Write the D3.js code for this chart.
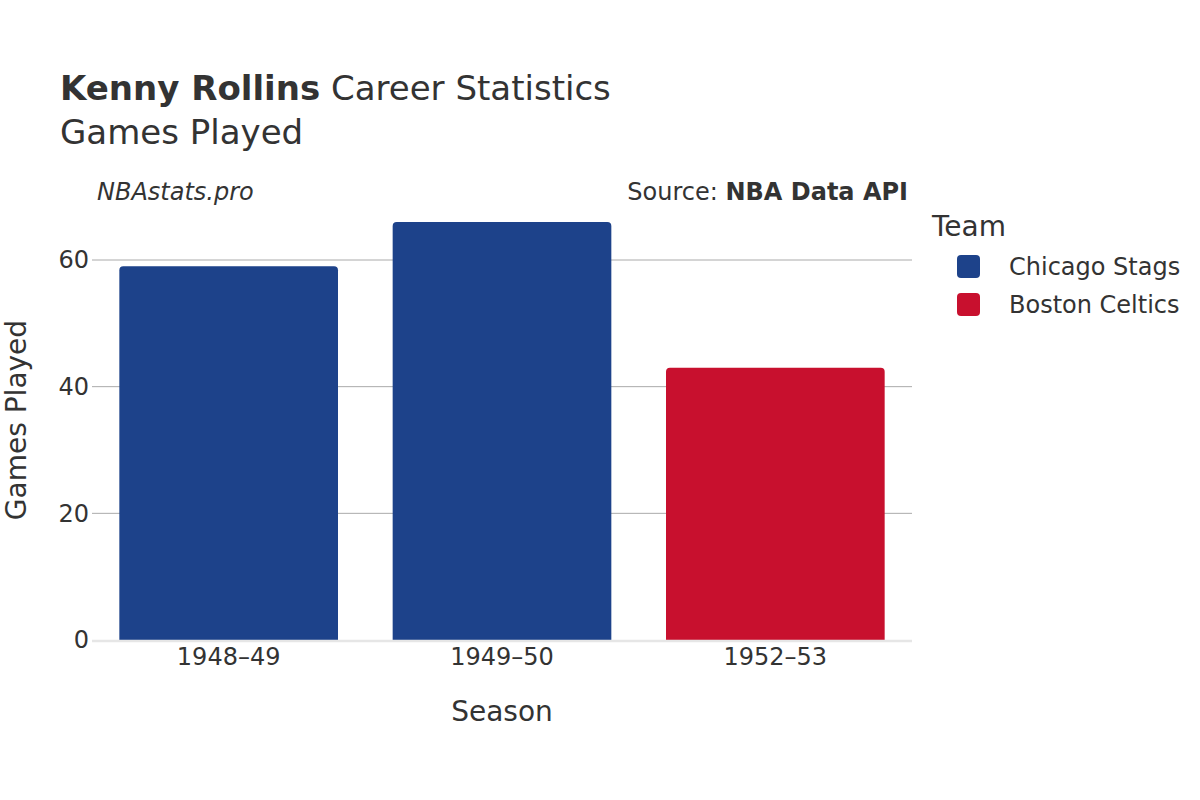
<!DOCTYPE html>
<html><head><meta charset="utf-8">
<script src="https://cdn.jsdelivr.net/npm/d3@7"></script>
<style>body{margin:0;background:#fff}text{font-family:"DejaVu Sans",sans-serif;fill:#333}</style>
</head><body>
<svg id="c" width="1200" height="800"></svg>
<script>
const seasons = ["1948–49", "1949–50", "1952–53"];
const teams = ["Chicago Stags", "Chicago Stags", "Boston Celtics"];
const gamesPlayed = [59, 66, 43];
const legendTeams = ["Chicago Stags", "Boston Celtics"];
const teamColors = ["#1d428a", "#c8102e"];
const yTicks = [0, 20, 40, 60];

const svg = d3.select("#c");
const m = {l: 92, r: 912, t: 200, b: 640};
const x = d3.scaleBand().domain(seasons).range([m.l, m.r]).paddingInner(0.2).paddingOuter(0.1);
const y = d3.scaleLinear().domain([0, 69.5]).range([m.b, m.b - 69.5 * (380 / 60)]);
const color = d3.scaleOrdinal().domain(legendTeams).range(teamColors);

// gridlines
svg.append("g").selectAll("line").data(yTicks.filter(d => d > 0)).join("line")
  .attr("x1", m.l).attr("x2", m.r).attr("y1", d => y(d)).attr("y2", d => y(d))
  .attr("stroke", "#aaaaaa").attr("stroke-width", 1);

// bars with rounded top
const r = 4;
svg.append("g").selectAll("path").data(seasons).join("path")
  .attr("d", (s, i) => {
    const x0 = x(s), w = x.bandwidth(), y0 = y(gamesPlayed[i]), yb = y(0);
    return `M${x0},${yb}V${y0 + r}Q${x0},${y0} ${x0 + r},${y0}H${x0 + w - r}Q${x0 + w},${y0} ${x0 + w},${y0 + r}V${yb}Z`;
  })
  .attr("fill", (s, i) => color(teams[i]));

// zero line
svg.append("line").attr("x1", m.l).attr("x2", m.r).attr("y1", y(0) + 1).attr("y2", y(0) + 1)
  .attr("stroke", "#e6e6e6").attr("stroke-width", 2.5);

// y axis ticks
const ya = svg.append("g").attr("transform", `translate(${m.l},0)`)
  .call(d3.axisLeft(y).tickValues(yTicks).tickSize(0).tickPadding(3));
ya.select(".domain").remove();
ya.selectAll("text").attr("font-size", 24).attr("fill", "#333").style("font-family", "DejaVu Sans");

// x axis ticks
const xa = svg.append("g").attr("transform", `translate(0,${m.b})`)
  .call(d3.axisBottom(x).tickSize(0).tickPadding(8));
xa.select(".domain").remove();
xa.selectAll("text").attr("font-size", 24).attr("fill", "#333").style("font-family", "DejaVu Sans");

// titles
const t = svg.append("text").attr("x", 60).attr("y", 100).attr("font-size", 34);
t.append("tspan").attr("font-weight", "bold").text("Kenny Rollins");
t.append("tspan").text(" Career Statistics");
svg.append("text").attr("x", 60).attr("y", 144).attr("font-size", 34).text("Games Played");

svg.append("text").attr("x", 97).attr("y", 200).attr("font-size", 24).attr("font-style", "italic").text("NBAstats.pro");
const src = svg.append("text").attr("x", 908).attr("y", 200).attr("font-size", 24).attr("text-anchor", "end");
src.append("tspan").text("Source: ");
src.append("tspan").attr("font-weight", "bold").text("NBA Data API");

// axis titles
svg.append("text").attr("x", 502).attr("y", 721).attr("font-size", 28).attr("text-anchor", "middle").text("Season");
svg.append("text").attr("transform", "translate(26,420) rotate(-90)").attr("font-size", 28).attr("text-anchor", "middle").text("Games Played");

// legend
svg.append("text").attr("x", 932).attr("y", 236).attr("font-size", 28).text("Team");
const lg = svg.append("g").selectAll("g").data(legendTeams).join("g")
  .attr("transform", (d, i) => `translate(957,${255 + i * 38})`);
lg.append("rect").attr("width", 23).attr("height", 23).attr("rx", 4).attr("fill", d => color(d));
lg.append("text").attr("x", 52).attr("y", 20).attr("font-size", 24).text(d => d);
</script>
</body></html>
